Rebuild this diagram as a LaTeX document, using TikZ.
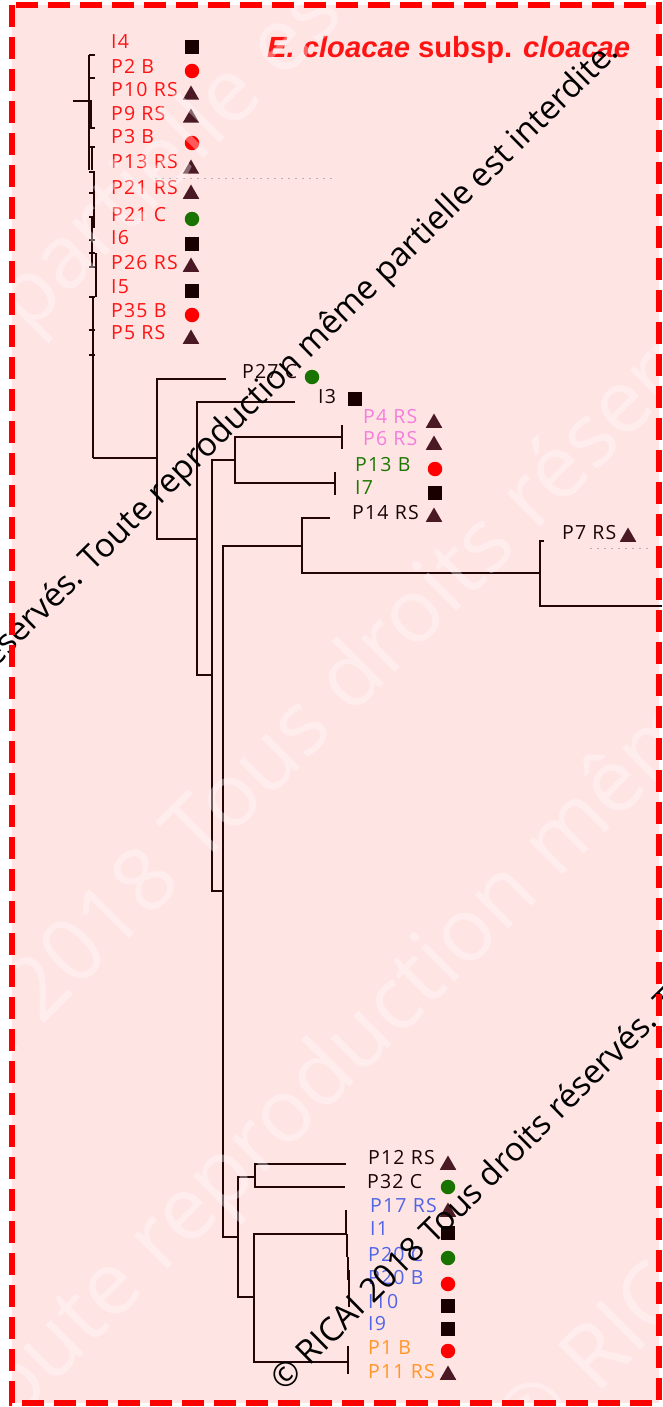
\documentclass[tikz,border=0pt]{standalone}
\usepackage{fontspec}
\newfontfamily\labfont[LetterSpace=6]{Open Sans}
\newfontfamily\wmfont{Open Sans}
\newfontfamily\ttlfont{Liberation Sans}
\usetikzlibrary{shapes.geometric}
\definecolor{bgpink}{RGB}{255,228,228}
\definecolor{framered}{RGB}{255,0,0}
\definecolor{branch}{RGB}{35,5,5}
\definecolor{labred}{RGB}{255,20,20}
\definecolor{labpink}{RGB}{245,125,220}
\definecolor{labgreen}{RGB}{30,120,0}
\definecolor{labblue}{RGB}{80,100,230}
\definecolor{laborange}{RGB}{255,150,40}
\definecolor{labblack}{RGB}{25,5,5}
\definecolor{trimaroon}{RGB}{75,25,35}
\definecolor{sqblack}{RGB}{25,0,0}
\definecolor{dotred}{RGB}{255,0,0}
\definecolor{dotgreen}{RGB}{25,115,0}

\begin{document}
\begin{tikzpicture}[x=1pt,y=-1pt,
 br/.style={draw=branch,line width=2.4pt},
 lab/.style={font=\labfont\fontsize{19.5}{22}\selectfont,anchor=base west,inner sep=0pt},
 ttl/.style={font=\ttlfont\bfseries\fontsize{29.2}{32}\selectfont,text=labred,anchor=base west,inner sep=0pt},
 sq/.style={rectangle,fill=sqblack,minimum size=14pt,inner sep=0pt},
 rdot/.style={circle,fill=dotred,minimum size=14.5pt,inner sep=0pt},
 gdot/.style={circle,fill=dotgreen,minimum size=14.5pt,inner sep=0pt},
 tri/.style={regular polygon,regular polygon sides=3,fill=trimaroon,minimum size=19pt,inner sep=0pt},
 wm/.style={font=\wmfont\fontsize{33}{36}\selectfont,rotate=44.5,inner sep=0pt,text=black},
 wmw/.style={font=\wmfont\fontsize{88}{96}\selectfont,rotate=45,inner sep=0pt,text=white,text opacity=0.35,anchor=west}]
\useasboundingbox (0,0) rectangle (662,1407);
\fill[bgpink] (12,5) rectangle (659,1403);

% top cluster (comb)
\draw[br] (89,55) -- (89,170) (73,101) -- (92,101) (91,101) -- (91,128) (92,147) -- (92,170)
 (94,172) -- (94,228) (92,217) -- (92,268) (96,253) -- (96,297) (93,297) -- (93,458);
\foreach \ty in {55,78,128,147,172,193,217,240,253,267,297,330,355}
 \draw[br,line width=1.5pt] (89,\ty) -- (95,\ty);

% internal nodes and tips
\coordinate (nA) at (93,458);
\coordinate (nB) at (157,458);
\coordinate (tP27) at (226,379);
\coordinate (nC) at (197,539);
\coordinate (tI3) at (295,402);
\coordinate (nD) at (212,675);
\coordinate (nE) at (235,460);
\coordinate (nG) at (342,437);
\coordinate (nH) at (335,483);
\coordinate (nF) at (223,891);
\coordinate (nI) at (302,546);
\coordinate (tP14) at (330,518);
\coordinate (nK) at (540,573);
\coordinate (tP7) at (544,541);
\coordinate (tOut) at (662,606);
\coordinate (nJ) at (238,1237);
\coordinate (nL) at (255,1177);
\coordinate (tP12) at (346,1164);
\coordinate (tP32) at (345,1187);
\coordinate (nM) at (254,1297);
\coordinate (nN) at (347,1234);
\coordinate (nO) at (348,1362);

\draw[br] (nA) -- (nB);
\draw[br] (nB) |- (tP27); \draw[br] (nB) |- (nC);
\draw[br] (nC) |- (tI3); \draw[br] (nC) |- (nD);
\draw[br] (nD) |- (nE); \draw[br] (nD) |- (nF);
\draw[br] (nE) |- (nG); \draw[br] (nE) |- (nH);
\draw[br] (nF) |- (nI); \draw[br] (nF) |- (nJ);
\draw[br] (nI) |- (tP14); \draw[br] (nI) |- (nK);
\draw[br] (nK) |- (tP7); \draw[br] (nK) |- (tOut);
\draw[br] (nJ) |- (nL); \draw[br] (nJ) |- (nM);
\draw[br] (nL) |- (tP12); \draw[br] (nL) |- (tP32);
\draw[br] (nM) |- (nN); \draw[br] (nM) |- (nO);
\draw[br] (nG) ++(0,-12) -- ++(0,24);
\draw[br] (nH) ++(0,-11) -- ++(0,23);
\draw[br] (nO) ++(0,-16) -- ++(0,28);
\draw[br] (nN) ++(-1,-24) -- ++(0,24) (nN) -- ++(0,23) (348,1257) -- (348,1280) (349,1270) -- (349,1307);
\draw[gray!60,dash pattern=on 2pt off 5pt,line width=0.6pt] (155,178) -- (335,178) (590,548) -- (650,548);

% leaves: top cluster
\node[lab,text=labred] (lI4) at (111,49) {I4};        \node[sq] (mI4) at (192,47) {};
\node[lab,text=labred] (lP2B) at (111,74) {P2 B};     \node[rdot] (mP2B) at (192,71) {};
\node[lab,text=labred] (lP10RS) at (111,97) {P10 RS}; \node[tri] (mP10RS) at (191,95) {};
\node[lab,text=labred] (lP9RS) at (111,121) {P9 RS};  \node[tri] (mP9RS) at (191,118) {};
\node[lab,text=labred] (lP3B) at (111,144) {P3 B};    \node[rdot] (mP3B) at (192,143) {};
\node[lab,text=labred] (lP13RS) at (111,169) {P13 RS};\node[tri] (mP13RS) at (191,169) {};
\node[lab,text=labred] (lP21RS) at (111,195) {P21 RS};\node[tri] (mP21RS) at (191,194) {};
\node[lab,text=labred] (lP21C) at (111,221) {P21 C};  \node[gdot] (mP21C) at (192,219) {};
\node[lab,text=labred] (lI6) at (111,244) {I6};       \node[sq] (mI6) at (192,244) {};
\node[lab,text=labred] (lP26RS) at (111,269) {P26 RS};\node[tri] (mP26RS) at (191,267) {};
\node[lab,text=labred] (lI5) at (111,293) {I5};       \node[sq] (mI5) at (192,291) {};
\node[lab,text=labred] (lP35B) at (111,317) {P35 B};  \node[rdot] (mP35B) at (192,315) {};
\node[lab,text=labred] (lP5RS) at (111,339) {P5 RS};  \node[tri] (mP5RS) at (191,339) {};
% leaves: middle
\node[lab,text=labblack] (lP27C) at (242,378) {P27 C};  \node[gdot] (mP27C) at (312,377) {};
\node[lab,text=labblack] (lI3) at (318,403) {I3};       \node[sq] (mI3) at (355,399) {};
\node[lab,text=labpink] (lP4RS) at (363,423) {P4 RS};   \node[tri] (mP4RS) at (434,423) {};
\node[lab,text=labpink] (lP6RS) at (363,445) {P6 RS};   \node[tri] (mP6RS) at (434,445) {};
\node[lab,text=labgreen] (lP13B) at (355,471) {P13 B};  \node[rdot] (mP13B) at (435,469) {};
\node[lab,text=labgreen] (lI7) at (355,494) {I7};       \node[sq] (mI7) at (435,493) {};
\node[lab,text=labblack] (lP14RS) at (352,519) {P14 RS};\node[tri] (mP14RS) at (434,517) {};
\node[lab,text=labblack] (lP7RS) at (562,539) {P7 RS};  \node[tri] (mP7RS) at (628,537) {};
% leaves: bottom
\node[lab,text=labblack] (lP12RS) at (368,1164) {P12 RS};\node[tri] (mP12RS) at (448,1165) {};
\node[lab,text=labblack] (lP32C) at (367,1188) {P32 C};  \node[gdot] (mP32C) at (448,1187) {};
\node[lab,text=labblue] (lP17RS) at (370,1212) {P17 RS}; \node[tri] (mP17RS) at (448,1212) {};
\node[lab,text=labblue] (lI1) at (370,1235) {I1};        \node[sq] (mI1) at (448,1233) {};
\node[lab,text=labblue] (lP20C) at (368,1261) {P20 C};   \node[gdot] (mP20C) at (448,1258) {};
\node[lab,text=labblue] (lP20B) at (368,1284) {P20 B};   \node[rdot] (mP20B) at (448,1284) {};
\node[lab,text=labblue] (lI10) at (368,1308) {I10};      \node[sq] (mI10) at (448,1306) {};
\node[lab,text=labblue] (lI9) at (368,1330) {I9};        \node[sq] (mI9) at (448,1329) {};
\node[lab,text=laborange] (lP1B) at (368,1354) {P1 B};   \node[rdot] (mP1B) at (448,1351) {};
\node[lab,text=laborange] (lP11RS) at (368,1378) {P11 RS};\node[tri] (mP11RS) at (448,1375) {};

\node[ttl] (title) at (267,58) {\textit{E. cloacae} subsp. \textit{cloacae}};

% watermarks
\begin{scope}
\clip (0,0) rectangle (662,1407);
\node[wmw] (wmA) at (-1776,2106) {© RICAI 2018 Tous droits réservés. Toute reproduction même partielle est interdite.};
\node[wmw] (wmB) at (-211,1246) {© RICAI 2018 Tous droits réservés. Toute reproduction même partielle est interdite.};
\node[wmw] (wmC) at (-1045,2450) {© RICAI 2018 Tous droits réservés. Toute reproduction même partielle est interdite.};
\node[wmw] (wmD) at (505,1440) {© RICAI 2018 Tous droits réservés.};
\node[wm,anchor=east] (wm1) at (614,48) {© RICAI 2018 Tous droits réservés. Toute reproduction même partielle est interdite.};
\node[wm,anchor=west] (wm2) at (278,1386) {© RICAI 2018 Tous droits réservés. Toute reproduction même partielle est interdite.};
\end{scope}

\draw[framered,line width=5.5pt,dash pattern=on 22pt off 10pt] (12,5) rectangle (659,1403);
\end{tikzpicture}
\end{document}
